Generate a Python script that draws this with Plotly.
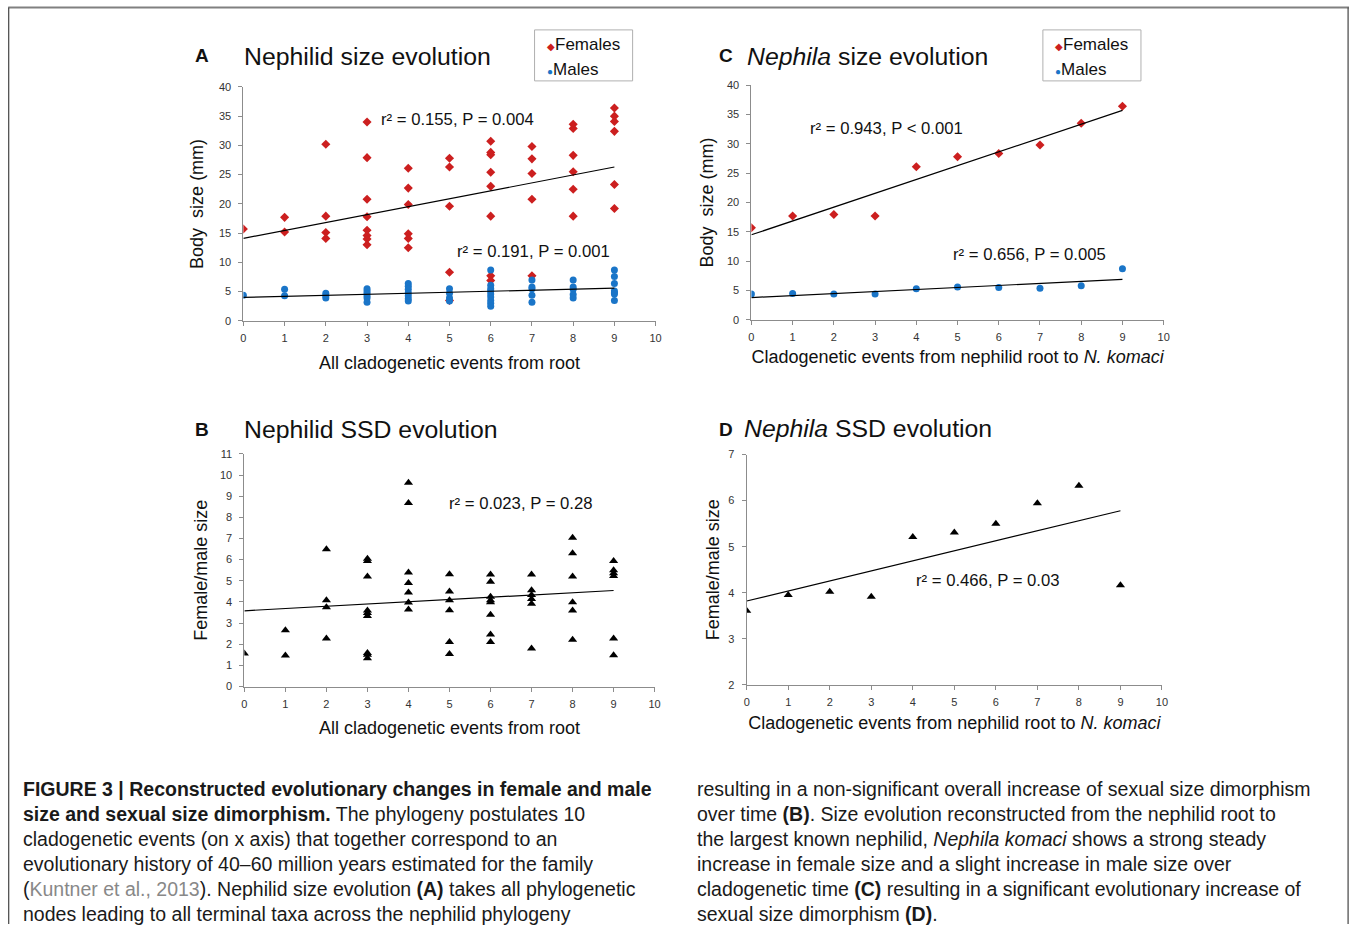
import plotly.graph_objects as go

W, H = 1355, 930

# ---------------- DATA ----------------
events = list(range(10))

# Panel A: all nephilid nodes
a_female_x = [0, 1, 1, 2, 2, 2, 2, 3, 3, 3, 3, 3, 3, 3, 3,
              4, 4, 4, 4, 4, 4, 5, 5, 5, 5, 5,
              6, 6, 6, 6, 6, 6, 6, 6, 7, 7, 7, 7, 7,
              8, 8, 8, 8, 8, 8, 9, 9, 9, 9, 9, 9]
a_female_y = [15.7, 17.7, 15.2, 30.2, 17.9, 15.1, 14.1, 34.0, 27.9, 20.8, 17.8, 15.5, 14.6, 14.0, 13.0,
              26.1, 22.7, 19.9, 14.9, 14.1, 12.5, 27.8, 26.3, 19.6, 8.3, 3.5,
              30.7, 28.8, 28.4, 25.4, 23.0, 17.9, 7.7, 6.9, 29.8, 27.7, 25.2, 20.8, 7.7,
              33.6, 32.9, 28.3, 25.5, 22.5, 17.9, 36.4, 35.0, 34.1, 32.4, 23.3, 19.2]
a_male_x = [0, 1, 1, 2, 2, 2, 3, 3, 3, 3, 3, 3,
            4, 4, 4, 4, 4, 4, 4, 5, 5, 5, 5,
            6, 6, 6, 6, 6, 6, 6, 6, 6, 7, 7, 7, 7, 7,
            8, 8, 8, 8, 8, 9, 9, 9, 9, 9, 9, 9]
a_male_y = [4.4, 5.4, 4.3, 4.7, 4.3, 3.9, 5.5, 5.1, 4.7, 4.3, 3.9, 3.2,
            6.4, 5.9, 5.4, 4.8, 4.3, 3.8, 3.4, 5.5, 4.7, 3.9, 3.4,
            8.7, 6.1, 5.5, 5.1, 4.6, 4.1, 3.5, 3.0, 2.5, 7.0, 5.8, 5.5, 4.4, 3.2,
            7.0, 5.8, 5.4, 4.5, 3.9, 8.7, 7.6, 6.4, 5.1, 4.8, 4.6, 3.5]
trend_x = [0, 9]
a_female_trend = [14.1, 26.3]
a_male_trend = [4.0, 5.6]

# Panel B: SSD, all nodes
b_x = [0, 1, 1, 2, 2, 2, 2, 3, 3, 3, 3, 3, 3, 3, 3, 3,
       4, 4, 4, 4, 4, 4, 4, 5, 5, 5, 5, 5, 5,
       6, 6, 6, 6, 6, 6, 6, 6, 7, 7, 7, 7, 7, 7,
       8, 8, 8, 8, 8, 8, 9, 9, 9, 9, 9, 9]
b_y = [1.56, 2.66, 1.47, 6.49, 4.08, 3.75, 2.27, 6.04, 5.94, 5.20, 3.59, 3.48, 3.34, 1.58, 1.50, 1.34,
       9.63, 8.68, 5.39, 4.89, 4.44, 3.97, 3.64, 5.31, 4.49, 4.08, 3.61, 2.11, 1.54,
       5.30, 4.95, 4.24, 4.08, 3.99, 3.39, 2.46, 2.11, 5.30, 4.55, 4.33, 4.14, 3.91, 1.80,
       7.03, 6.30, 5.20, 3.99, 3.59, 2.21, 5.94, 5.50, 5.36, 5.22, 2.27, 1.48]
b_trend = [3.58, 4.54]

# Panel C: root to N. komaci
c_female = [15.7, 17.7, 17.95, 17.7, 26.1, 27.8, 28.35, 29.8, 33.5, 36.4]
c_male = [4.4, 4.5, 4.4, 4.4, 5.3, 5.6, 5.5, 5.4, 5.8, 8.7]
c_female_trend = [14.5, 35.7]
c_male_trend = [3.8, 6.9]

# Panel D: SSD root to N. komaci
d_ssd = [3.61, 3.95, 4.02, 3.91, 5.21, 5.31, 5.50, 5.94, 6.32, 4.16]
d_trend = [3.82, 5.78]

RED = "#cc1f1f"
BLUE = "#1a75c8"
FONT = "Liberation Sans, Arial, sans-serif"
CAPFONT = "Liberation Sans Narrow, Liberation Sans, Arial, sans-serif"

# map reference-pixel positions to paper fractions (with small render compensation)
def px(x):
    return min(max((x - 2.8) / 0.9927, 0), W) / W

def py(y):
    return 1 - min(max((y - 6.1) / 0.9872, 0), H) / H

fig = go.Figure()

# Panel A
fig.add_trace(go.Scatter(x=a_female_x, y=a_female_y, mode="markers", xaxis="x", yaxis="y",
                         marker=dict(symbol="diamond", color=RED, size=7), showlegend=False))
fig.add_trace(go.Scatter(x=a_male_x, y=a_male_y, mode="markers", xaxis="x", yaxis="y",
                         marker=dict(symbol="circle", color=BLUE, size=7), showlegend=False))
fig.add_trace(go.Scatter(x=trend_x, y=a_female_trend, mode="lines", xaxis="x", yaxis="y",
                         line=dict(color="black", width=1.2), showlegend=False))
fig.add_trace(go.Scatter(x=trend_x, y=a_male_trend, mode="lines", xaxis="x", yaxis="y",
                         line=dict(color="black", width=1.2), showlegend=False))
# Panel B
fig.add_trace(go.Scatter(x=b_x, y=b_y, mode="markers", xaxis="x2", yaxis="y2",
                         marker=dict(symbol="triangle-up", color="black", size=8), showlegend=False))
fig.add_trace(go.Scatter(x=trend_x, y=b_trend, mode="lines", xaxis="x2", yaxis="y2",
                         line=dict(color="black", width=1.2), showlegend=False))
# Panel C
fig.add_trace(go.Scatter(x=events, y=c_female, mode="markers", xaxis="x3", yaxis="y3",
                         marker=dict(symbol="diamond", color=RED, size=7), showlegend=False))
fig.add_trace(go.Scatter(x=events, y=c_male, mode="markers", xaxis="x3", yaxis="y3",
                         marker=dict(symbol="circle", color=BLUE, size=7), showlegend=False))
fig.add_trace(go.Scatter(x=trend_x, y=c_female_trend, mode="lines", xaxis="x3", yaxis="y3",
                         line=dict(color="black", width=1.2), showlegend=False))
fig.add_trace(go.Scatter(x=trend_x, y=c_male_trend, mode="lines", xaxis="x3", yaxis="y3",
                         line=dict(color="black", width=1.2), showlegend=False))
# Panel D
fig.add_trace(go.Scatter(x=events, y=d_ssd, mode="markers", xaxis="x4", yaxis="y4",
                         marker=dict(symbol="triangle-up", color="black", size=8), showlegend=False))
fig.add_trace(go.Scatter(x=trend_x, y=d_trend, mode="lines", xaxis="x4", yaxis="y4",
                         line=dict(color="black", width=1.2), showlegend=False))

def xax(domain, title, anchor, standoff):
    return dict(domain=domain, anchor=anchor, range=[0, 10], dtick=1, tick0=0,
                showline=True, linecolor="#8c8c8c", linewidth=1, ticks="outside",
                tickcolor="#8c8c8c", ticklen=4, showgrid=False, zeroline=False,
                ticklabelstandoff=3,
                tickfont=dict(family=FONT, size=11, color="#333"),
                title=dict(text=title, font=dict(family=FONT, size=18, color="#111"), standoff=standoff))

def yax(domain, rng, dtick, title, anchor, standoff):
    return dict(domain=domain, anchor=anchor, range=rng, dtick=dtick,
                showline=True, linecolor="#8c8c8c", linewidth=1, ticks="outside",
                tickcolor="#8c8c8c", ticklen=4, showgrid=False, zeroline=False,
                ticklabelstandoff=5,
                tickfont=dict(family=FONT, size=11, color="#333"),
                title=dict(text=title, font=dict(family=FONT, size=18, color="#111"), standoff=standoff))

xA = [px(243), px(655)]
yA = [py(321), py(87)]
xB = [px(244), px(654)]
yB = [py(686.7), py(454)]
xC = [px(750.7), px(1162.7)]
yC = [py(320), py(85.3)]
xD = [px(746), px(1161)]
yD = [py(685), py(454.7)]

fig.update_layout(
    width=W, height=H,
    margin=dict(l=0, r=0, t=0, b=0),
    paper_bgcolor="white", plot_bgcolor="white",
    xaxis=xax(xA, "All cladogenetic events from root", "y", 13),
    yaxis=yax(yA, [0, 40], 5, "Body  size (mm)", "x", 10),
    xaxis2=xax(xB, "All cladogenetic events from root", "y2", 12),
    yaxis2=yax(yB, [0, 11], 1, "Female/male size", "x2", 7),
    xaxis3=xax(xC, "Cladogenetic events from nephilid root to <i>N. komaci</i>", "y3", 8),
    yaxis3=yax(yC, [0, 40], 5, "Body  size (mm)", "x3", 8),
    xaxis4=xax(xD, "Cladogenetic events from nephilid root to <i>N. komaci</i>", "y4", 9),
    yaxis4=yax(yD, [2, 7], 1, "Female/male size", "x4", 4),
)

ann = []
def text(x, y, s, size, xanchor="left", family=FONT, color="#111"):
    ann.append(dict(x=px(x), y=py(y), xref="paper", yref="paper", text=s, showarrow=False,
                    xanchor=xanchor, yanchor="middle", font=dict(family=family, size=size, color=color)))

# panel titles
text(193, 56, "<b>A</b>", 19)
text(242, 57, "Nephilid size evolution", 24.8)
text(193, 430, "<b>B</b>", 19)
text(242, 430, "Nephilid SSD evolution", 24.8)
text(716, 56, "<b>C</b>", 19)
text(744, 57, "<i>Nephila</i> size evolution", 24.8)
text(716, 430, "<b>D</b>", 19)
text(741, 429, "<i>Nephila</i> SSD evolution", 24.8)

# statistics
text(379, 120, "r² = 0.155, P = 0.004", 16.7)
text(455, 252, "r² = 0.191, P = 0.001", 16.7)
text(447, 504, "r² = 0.023, P = 0.28", 16.7)
text(807, 129, "r² = 0.943, P < 0.001", 16.7)
text(950, 255, "r² = 0.656, P = 0.005", 16.7)
text(913, 581, "r² = 0.466, P = 0.03", 16.7)

# legends
for lx in (534, 1042):
    text(lx + 10, 45, "<span style='color:%s;font-size:10px'>◆</span>Females" % RED, 17)
    text(lx + 10, 70, "<span style='color:%s;font-size:10px'>●</span>Males" % BLUE, 17)

# caption
cap_left = [
    "<b>FIGURE 3 | Reconstructed evolutionary changes in female and male</b>",
    "<b>size and sexual size dimorphism.</b> The phylogeny postulates 10",
    "cladogenetic events (on x axis) that together correspond to an",
    "evolutionary history of 40–60 million years estimated for the family",
    "(<span style='color:#888'>Kuntner et al., 2013</span>). Nephilid size evolution <b>(A)</b> takes all phylogenetic",
    "nodes leading to all terminal taxa across the nephilid phylogeny",
]
cap_right = [
    "resulting in a non-significant overall increase of sexual size dimorphism",
    "over time <b>(B)</b>. Size evolution reconstructed from the nephilid root to",
    "the largest known nephilid, <i>Nephila komaci</i> shows a strong steady",
    "increase in female size and a slight increase in male size over",
    "cladogenetic time <b>(C)</b> resulting in a significant evolutionary increase of",
    "sexual size dimorphism <b>(D)</b>.",
]
for i, s in enumerate(cap_left):
    text(21, 789 + 25.1 * i, s, 19.5, family=CAPFONT, color="#1a1a1a")
for i, s in enumerate(cap_right):
    text(694, 789 + 25.1 * i, s, 19.5, family=CAPFONT, color="#1a1a1a")

fig.update_layout(annotations=ann)

shapes = [
    dict(type="rect", xref="paper", yref="paper", x0=px(534), x1=px(632), y0=py(81), y1=py(30),
         line=dict(color="#b0b0b0", width=1)),
    dict(type="rect", xref="paper", yref="paper", x0=px(1042), x1=px(1140), y0=py(81), y1=py(30),
         line=dict(color="#b0b0b0", width=1)),
    # outer frame
    dict(type="line", xref="paper", yref="paper", x0=px(8), x1=px(1348), y0=py(7.5), y1=py(7.5),
         line=dict(color="#808080", width=2)),
    dict(type="line", xref="paper", yref="paper", x0=px(8.5), x1=px(8.5), y0=py(7.5), y1=py(930),
         line=dict(color="#444", width=1.2)),
    dict(type="line", xref="paper", yref="paper", x0=px(1347), x1=px(1347), y0=py(7.5), y1=py(930),
         line=dict(color="#444", width=1.2)),
]
fig.update_layout(shapes=shapes)

fig.write_html("out.html", config={"displayModeBar": False},
               post_script="document.body.style.margin='0';document.body.style.overflow='hidden';")
